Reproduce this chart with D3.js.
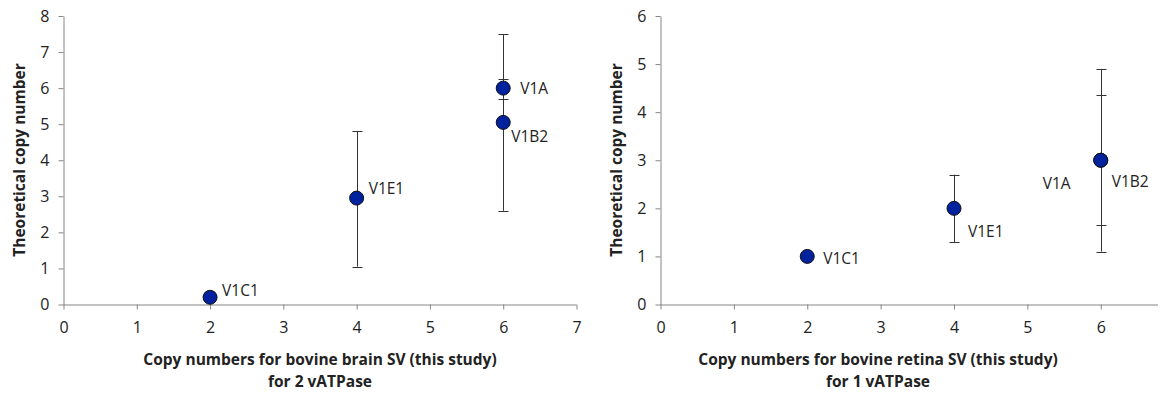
<!DOCTYPE html>
<html>
<head>
<meta charset="utf-8">
<script src="https://cdn.jsdelivr.net/npm/d3@7"></script>
<style>
  body { margin: 0; background: #fff; }
  svg text { font-family: "Open Sans", "Liberation Sans", sans-serif; fill: #222; }
  .axis path, .axis line { stroke: #868686; }
  .axis text { font-size: 16px; }
  .title { font-size: 15.5px; font-weight: bold; }
  .lbl { font-size: 15.5px; }
</style>
</head>
<body>
<svg id="chart"></svg>
<script>
// brain SV (2 vATPase)
const brainNames = ["V1C1", "V1E1", "V1A", "V1B2"];
const brainX = [2, 4, 6, 6];
const brainY = [0.2, 2.95, 6.0, 5.05];
const brainLow = [null, 1.05, 5.7, 2.6];
const brainHigh = [null, 4.8, 6.26, 7.5];

// retina SV (1 vATPase)
const retinaNames = ["V1C1", "V1E1", "V1B2", "V1A"];
const retinaX = [2, 4, 6, 6];
const retinaY = [1, 2, 3, 3];
const retinaLow = [null, 1.3, 1.1, 1.65];
const retinaHigh = [null, 2.7, 4.9, 4.35];

const xTicks = [0, 1, 2, 3, 4, 5, 6, 7];
const brainYTicks = [0, 1, 2, 3, 4, 5, 6, 7, 8];
const retinaYTicks = [0, 1, 2, 3, 4, 5, 6];

const svg = d3.select("#chart").attr("width", 1160).attr("height", 394);

function drawPanel(cfg) {
  const g = svg.append("g");
  const x = d3.scaleLinear().domain(cfg.xDomain).range([cfg.left, cfg.right]);
  const y = d3.scaleLinear().domain(cfg.yDomain).range([cfg.bottom, cfg.top]);
  const fmt = d3.format("d");

  const pts = cfg.names.map((n, i) => ({
    name: n, x: cfg.xs[i], y: cfg.ys[i], lo: cfg.lo[i], hi: cfg.hi[i]
  }));

  g.append("g").attr("class", "axis")
    .attr("transform", `translate(0,${cfg.bottom})`)
    .call(d3.axisBottom(x).tickValues(cfg.xTicks).tickFormat(fmt).tickSize(5).tickSizeOuter(0).tickPadding(12))
    .call(a => a.select(".domain").attr("d", `M${cfg.left},0.5H${cfg.right}`));

  g.append("g").attr("class", "axis")
    .attr("transform", `translate(${cfg.left},0)`)
    .call(d3.axisLeft(y).tickValues(cfg.yTicks).tickFormat(fmt).tickSize(5).tickSizeOuter(0).tickPadding(9));

  // error bars
  const eb = g.append("g").attr("stroke", "#333").attr("stroke-width", 1);
  pts.filter(d => d.lo != null).forEach(d => {
    const cx = Math.round(x(d.x)) + 0.5;
    eb.append("line").attr("x1", cx).attr("x2", cx).attr("y1", y(d.lo)).attr("y2", y(d.hi));
    [d.lo, d.hi].forEach(v => {
      eb.append("line").attr("x1", cx - 5).attr("x2", cx + 5)
        .attr("y1", Math.round(y(v)) + 0.5).attr("y2", Math.round(y(v)) + 0.5);
    });
  });

  g.append("g").selectAll("circle").data(pts).join("circle")
    .attr("cx", d => x(d.x)).attr("cy", d => y(d.y)).attr("r", 7)
    .attr("fill", "#00229e").attr("stroke", "#111").attr("stroke-width", 1);

  g.append("g").selectAll("text").data(pts).join("text")
    .attr("class", "lbl")
    .attr("x", d => x(d.x) + cfg.labelOffset[d.name][0])
    .attr("y", d => y(d.y) + cfg.labelOffset[d.name][1])
    .attr("dy", "0.35em")
    .text(d => d.name);

  g.append("text").attr("class", "title")
    .attr("transform", `translate(${cfg.yTitleX},${cfg.yTitleY}) rotate(-90)`)
    .attr("text-anchor", "middle").attr("dy", "0.35em")
    .text("Theoretical copy number");

  const xt = g.append("text").attr("class", "title").attr("text-anchor", "middle");
  cfg.xTitle.forEach((line, i) => {
    xt.append("tspan").attr("x", cfg.xTitleX).attr("y", 360 + i * 22).attr("dy", "0.35em").text(line);
  });
}

drawPanel({
  names: brainNames, xs: brainX, ys: brainY, lo: brainLow, hi: brainHigh,
  xDomain: [0, 7], yDomain: [0, 8], xTicks: xTicks, yTicks: brainYTicks,
  left: 63.5, right: 576.5, top: 16, bottom: 304.5,
  yTitleX: 20, yTitleY: 160, xTitleX: 320,
  xTitle: ["Copy numbers for bovine brain SV (this study)", "for 2 vATPase"],
  labelOffset: { V1C1: [12, -7], V1E1: [12, -10], V1A: [17, 0], V1B2: [8, 14] }
});

drawPanel({
  names: retinaNames, xs: retinaX, ys: retinaY, lo: retinaLow, hi: retinaHigh,
  xDomain: [0, 6.78], yDomain: [0, 6], xTicks: xTicks.slice(0, 7), yTicks: retinaYTicks,
  left: 660.5, right: 1158, top: 16, bottom: 304.5,
  yTitleX: 617, yTitleY: 160, xTitleX: 878,
  xTitle: ["Copy numbers for bovine retina SV (this study)", "for 1 vATPase"],
  labelOffset: { V1C1: [16, 2], V1E1: [14, 23], V1A: [-58, 23], V1B2: [11, 21] }
});
</script>
</body>
</html>
